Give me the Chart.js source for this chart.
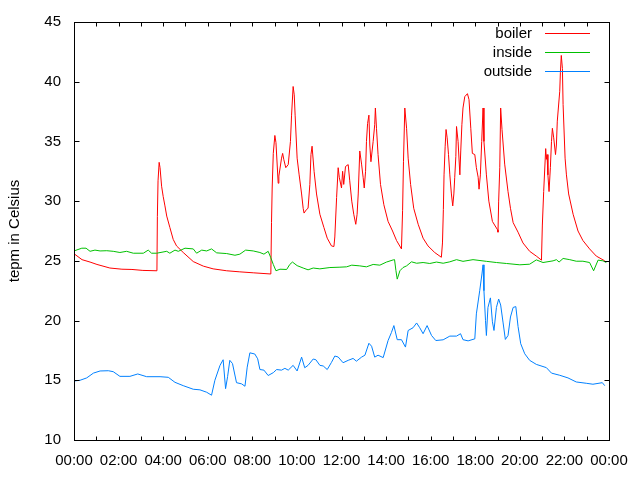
<!DOCTYPE html>
<html>
<head>
<meta charset="utf-8">
<script src="https://cdn.jsdelivr.net/npm/chart.js@4/dist/chart.umd.min.js"></script>
<style>
  html, body { margin: 0; padding: 0; background: #ffffff; }
  #c { display: block; }
</style>
</head>
<body>
<canvas id="c" width="640" height="480"></canvas>
<script>
// ---- data (time in hours of day, temperature in Celsius) ----
const seriesNames = ["boiler", "inside", "outside"];
const seriesColors = ["#ff0000", "#00c000", "#0080ff"];

const boilerTime = [0.00,0.36,0.72,1.03,1.61,2.15,2.60,3.09,3.72,3.74,3.77,3.82,3.86,3.93,4.00,4.08,4.16,4.30,4.45,4.60,4.90,5.35,5.80,6.24,6.85,7.44,8.04,8.83,8.86,8.89,8.94,9.01,9.06,9.16,9.19,9.31,9.36,9.41,9.50,9.61,9.71,9.76,9.83,9.88,9.92,10.01,10.10,10.21,10.28,10.32,10.43,10.50,10.58,10.63,10.68,10.77,10.88,11.03,11.21,11.36,11.55,11.66,11.70,11.78,11.85,11.90,12.00,12.05,12.10,12.18,12.30,12.37,12.46,12.55,12.64,12.70,12.75,12.82,12.90,12.97,13.02,13.08,13.12,13.17,13.23,13.27,13.32,13.42,13.49,13.52,13.57,13.64,13.75,13.90,14.09,14.29,14.47,14.69,14.74,14.78,14.84,14.92,14.99,15.10,15.24,15.44,15.66,15.88,16.18,16.48,16.53,16.57,16.60,16.65,16.69,16.74,16.80,16.86,16.93,16.99,17.04,17.08,17.13,17.16,17.23,17.31,17.35,17.40,17.45,17.53,17.65,17.72,17.80,17.87,17.98,18.05,18.13,18.17,18.23,18.29,18.35,18.39,18.50,18.61,18.77,19.00,19.02,19.05,19.10,19.14,19.20,19.32,19.47,19.58,19.70,19.92,20.14,20.44,20.74,20.97,21.01,21.07,21.16,21.19,21.22,21.26,21.31,21.37,21.42,21.46,21.52,21.60,21.64,21.68,21.79,21.82,21.86,21.91,21.94,22.03,22.09,22.19,22.39,22.61,22.83,23.13,23.43,23.81];
const boilerTemp = [25.6,25.1,24.9,24.7,24.4,24.3,24.28,24.2,24.17,28.7,31.7,33.25,32.8,31.25,30.4,29.6,28.75,27.8,26.8,26.25,25.7,24.94,24.56,24.33,24.17,24.08,24.0,23.9,28.2,31.1,34.0,35.5,34.9,31.5,32.1,33.6,34.0,33.5,32.8,33.06,35.0,37.2,39.6,38.9,37.2,33.6,32.2,30.6,29.4,29.0,29.3,29.4,31.4,33.9,34.6,32.5,30.6,28.9,27.8,26.9,26.25,26.2,27.0,30.3,32.8,32.0,31.1,32.5,31.4,32.9,33.06,31.7,30.0,28.9,28.06,28.9,30.6,34.2,33.1,32.0,31.1,32.5,35.0,36.5,37.2,34.7,33.3,35.0,36.4,37.8,36.1,33.9,31.4,29.7,28.3,27.5,26.7,26.0,29.2,33.3,37.8,36.1,33.6,31.4,29.4,28.06,26.9,26.25,25.7,25.3,26.5,29.3,32.2,34.6,36.0,35.3,33.9,32.2,30.6,29.6,30.6,32.0,33.75,36.25,35.0,32.2,34.2,36.4,37.8,38.75,39.0,38.5,36.1,34.0,33.9,32.8,32.0,31.0,32.2,35.0,37.8,35.0,32.2,30.0,28.3,27.6,27.4,30.0,32.8,37.8,36.0,33.1,30.8,29.4,28.2,27.4,26.5,25.8,25.4,25.06,28.0,30.8,34.4,33.5,33.9,32.2,30.8,32.8,35.0,36.1,35.3,33.9,34.7,36.7,39.2,40.8,42.2,41.1,38.1,33.6,32.2,30.6,28.9,27.5,26.7,26.0,25.4,25.0];

const insideTime = [0.00,0.35,0.54,0.72,0.94,1.17,1.47,1.76,2.06,2.36,2.66,3.11,3.33,3.48,3.71,4.16,4.30,4.53,4.68,4.98,5.35,5.50,5.73,5.95,6.17,6.40,6.85,7.22,7.44,7.70,8.04,8.34,8.52,8.71,8.82,8.94,9.06,9.24,9.54,9.68,9.80,10.01,10.28,10.50,10.73,11.03,11.48,11.93,12.23,12.46,12.82,13.12,13.42,13.72,14.02,14.32,14.38,14.44,14.50,14.62,14.76,14.92,15.14,15.37,15.66,15.96,16.26,16.56,16.86,17.16,17.45,17.90,18.50,18.95,19.40,20.00,20.44,20.74,21.04,21.49,21.64,21.76,21.94,22.24,22.53,22.83,23.13,23.31,23.51,23.73,23.88];
const insideTemp = [25.83,26.06,26.06,25.8,25.9,25.83,25.85,25.8,25.7,25.8,25.64,25.64,25.9,25.64,25.64,25.8,25.64,25.9,25.8,26.06,26.0,25.64,25.9,25.83,26.0,25.67,25.61,25.47,25.56,25.9,25.83,25.7,25.56,25.8,25.3,24.7,24.17,24.3,24.28,24.7,24.9,24.6,24.4,24.25,24.4,24.33,24.44,24.47,24.5,24.64,24.58,24.5,24.7,24.64,24.9,25.08,25.1,24.2,23.47,24.17,24.44,24.58,24.92,24.8,24.86,24.78,24.9,24.8,24.92,25.1,24.96,25.1,24.96,24.86,24.78,24.67,24.72,25.08,24.86,25.0,25.1,24.9,25.2,25.1,24.97,24.97,24.86,24.17,25.06,25.0,24.86];

const outsideTime = [0.00,0.27,0.57,0.87,1.17,1.54,1.76,2.06,2.51,2.86,3.26,3.86,4.23,4.53,4.90,5.35,5.65,5.95,6.17,6.32,6.55,6.69,6.80,6.89,6.99,7.11,7.29,7.52,7.67,7.77,7.89,8.11,8.24,8.34,8.52,8.71,8.94,9.09,9.31,9.46,9.61,9.83,10.01,10.21,10.35,10.50,10.73,10.85,11.03,11.18,11.36,11.55,11.70,11.85,12.07,12.30,12.52,12.67,12.90,13.05,13.23,13.35,13.49,13.64,13.87,14.09,14.24,14.35,14.50,14.69,14.87,14.99,15.21,15.37,15.51,15.66,15.84,16.04,16.23,16.56,16.86,17.16,17.34,17.45,17.68,17.98,18.05,18.20,18.30,18.35,18.39,18.46,18.50,18.57,18.68,18.77,18.84,18.95,19.05,19.14,19.25,19.35,19.47,19.58,19.70,19.82,19.92,20.04,20.22,20.44,20.74,21.19,21.42,21.79,22.16,22.53,22.98,23.28,23.70,23.81];
const outsideTemp = [14.94,15.0,15.2,15.6,15.78,15.8,15.72,15.33,15.33,15.53,15.3,15.3,15.25,14.83,14.55,14.25,14.2,14.0,13.75,15.0,16.25,16.72,14.3,15.3,16.67,16.4,14.8,14.7,14.5,16.1,17.3,17.2,16.8,15.9,15.85,15.4,15.64,15.9,15.85,16.0,15.85,16.25,15.78,16.94,16.05,16.25,16.78,16.72,16.25,16.2,15.9,16.5,17.03,16.95,16.47,16.67,16.83,16.6,16.94,17.1,18.1,17.85,16.94,17.1,16.9,18.33,19.0,19.58,18.4,18.4,17.78,19.17,19.4,19.8,19.4,18.9,19.58,18.75,18.33,18.39,18.7,18.7,18.9,18.4,18.3,18.47,20.56,22.5,23.9,24.67,22.5,20.0,18.75,21.1,21.9,19.9,19.17,21.1,21.8,21.3,19.8,18.42,18.75,20.3,21.1,21.17,19.5,18.06,17.22,16.67,16.33,16.06,15.6,15.42,15.2,14.86,14.75,14.67,14.8,14.55];

const xTickHours = [0,2,4,6,8,10,12,14,16,18,20,22,24];
const xTickLabels = ["00:00","02:00","04:00","06:00","08:00","10:00","12:00","14:00","16:00","18:00","20:00","22:00","00:00"];
const yTicks = [10,15,20,25,30,35,40,45];
const yTitle = "tepm in Celsius";

// ---- build ----
const FONT = "'Liberation Sans', Arial, sans-serif";
function pairs(t, v) { return t.map((h, i) => ({ x: h, y: v[i] })); }
const seriesData = [pairs(boilerTime, boilerTemp), pairs(insideTime, insideTemp), pairs(outsideTime, outsideTemp)];

const framePlugin = {
  id: 'frame',
  afterDatasetsDraw(chart) {
    const { ctx, chartArea: a, scales: { x, y } } = chart;
    ctx.save();
    ctx.strokeStyle = '#000';
    ctx.lineWidth = 1;
    ctx.beginPath();
    const L = Math.round(a.left) + 0.5, R = Math.round(a.right) + 0.5;
    const T = Math.round(a.top) + 0.5, B = Math.round(a.bottom) + 0.5;
    for (let h = 0; h <= 24; h++) {
      const px = Math.round(x.getPixelForValue(h)) + 0.5;
      ctx.moveTo(px, B); ctx.lineTo(px, B - 4);
      ctx.moveTo(px, T); ctx.lineTo(px, T + 4);
    }
    yTicks.forEach(v => {
      const py = Math.round(y.getPixelForValue(v)) + 0.5;
      ctx.moveTo(L, py); ctx.lineTo(L + 5, py);
      ctx.moveTo(R, py); ctx.lineTo(R - 5, py);
    });
    ctx.stroke();
    ctx.strokeRect(L, T, R - L, B - T);

    // legend (gnuplot style: text right-aligned, sample line to the right)
    ctx.font = "15px " + FONT;
    ctx.textAlign = 'right';
    ctx.textBaseline = 'middle';
    chart.data.datasets.forEach((ds, i) => {
      const ly = 33 + i * 19;
      ctx.fillStyle = '#000';
      ctx.fillText(ds.label, 532, ly + 1);
      ctx.strokeStyle = ds.borderColor;
      ctx.beginPath();
      ctx.moveTo(545, ly + 0.5); ctx.lineTo(590, ly + 0.5);
      ctx.stroke();
    });
    ctx.restore();
  }
};

new Chart(document.getElementById('c'), {
  type: 'line',
  data: {
    datasets: seriesNames.map((name, i) => ({
      label: name,
      data: seriesData[i],
      borderColor: seriesColors[i],
      backgroundColor: seriesColors[i],
      borderWidth: 1,
      pointRadius: 0,
      tension: 0,
      fill: false,
      order: 3 - i
    }))
  },
  options: {
    responsive: false,
    animation: false,
    events: [],
    parsing: true,
    layout: { padding: { left: 0, top: 20, right: 31, bottom: 0 } },
    plugins: { legend: { display: false }, tooltip: { enabled: false } },
    scales: {
      x: {
        type: 'linear',
        min: 0, max: 24,
        grid: { display: false, drawTicks: false },
        border: { display: false },
        afterBuildTicks: s => { s.ticks = xTickHours.map(v => ({ value: v })); },
        afterFit: s => { s.height = 40; },
        ticks: {
          autoSkip: false,
          maxRotation: 0,
          padding: 12,
          color: '#000',
          font: { family: FONT, size: 15 },
          callback: (v) => xTickLabels[xTickHours.indexOf(v)]
        }
      },
      y: {
        type: 'linear',
        min: 10, max: 45,
        grid: { display: false, drawTicks: false },
        border: { display: false },
        afterBuildTicks: s => { s.ticks = yTicks.map(v => ({ value: v })); },
        afterFit: s => { s.width = 74; },
        ticks: {
          padding: 13,
          color: '#000',
          font: { family: FONT, size: 15 },
          callback: v => String(v)
        },
        title: {
          display: true,
          text: yTitle,
          color: '#000',
          font: { family: FONT, size: 15 },
          padding: { top: 6, bottom: 0 }
        }
      }
    }
  },
  plugins: [framePlugin]
});
</script>
</body>
</html>
